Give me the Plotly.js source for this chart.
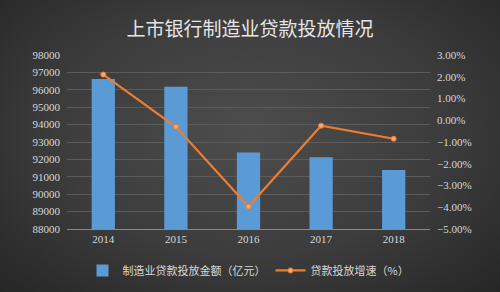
<!DOCTYPE html>
<html>
<head>
<meta charset="utf-8">
<script src="https://cdn.plot.ly/plotly-3.0.1.min.js"></script>
<style>
html,body{margin:0;padding:0;}
body{width:500px;height:292px;background:radial-gradient(ellipse at 50% 45%, #4d4d4d 0%, #3c3c3c 55%, #262626 100%);}
#chart{width:500px;height:292px;}
</style>
</head>
<body>
<div id="chart"></div>
<script>
const years = ['2014','2015','2016','2017','2018'];
const loanAmount = [96620, 96180, 92390, 92120, 91390];
const loanGrowth = [2.1, -0.3, -3.97, -0.25, -0.85];

const cjk = '"Noto Sans CJK SC", "Noto Sans", sans-serif';
const serif = '"Liberation Serif", "DejaVu Serif", serif';
const txt = '#d8d8d8';

const traces = [
  {
    type: 'bar', x: years, y: loanAmount, name: '制造业贷款投放金额（亿元）',
    marker: {color: '#5b9bd5'}, yaxis: 'y'
  },
  {
    type: 'scatter', mode: 'lines+markers', x: years, y: loanGrowth, name: '贷款投放增速（%）',
    line: {color: '#ed7d31', width: 2.2}, marker: {color: '#f2a878', size: 5, line:{color:'#ed7d31', width:1}},
    yaxis: 'y2'
  }
];

const layout = {
  width: 500, height: 292,
  paper_bgcolor: 'rgba(0,0,0,0)', plot_bgcolor: 'rgba(0,0,0,0)',
  margin: {l: 67, r: 70, t: 55, b: 63, autoexpand: false},
  bargap: 0.68,
  showlegend: true,
  title: {text: '上市银行制造业贷款投放情况', x: 0.5, xanchor: 'center', y: 0.9, yanchor: 'middle',
    font: {family: cjk, size: 19, color: '#e6e6e6'}},
  xaxis: {
    tickfont: {family: serif, size: 11, color: txt},
    showline: true, linecolor: '#8a8a8a', linewidth: 1, ticks: '', showgrid: false
  },
  yaxis: {
    range: [88000, 98000], dtick: 1000, tickformat: 'd',
    tickfont: {family: serif, size: 11, color: txt},
    gridcolor: '#5c5c5c', gridwidth: 1, zeroline: false, ticks: '', ticklabelstandoff: 6
  },
  yaxis2: {
    overlaying: 'y', side: 'right', range: [-5, 3], dtick: 1,
    tickformat: '.2f', ticksuffix: '%',
    tickfont: {family: serif, size: 11, color: txt},
    showgrid: false, zeroline: false, ticks: '', ticklabelstandoff: 6
  },
  legend: {
    orientation: 'h', x: 0.5, xanchor: 'center', y: -0.155, yanchor: 'top',
    font: {family: cjk, size: 11, color: txt}, bgcolor: 'rgba(0,0,0,0)'
  }
};

Plotly.newPlot('chart', traces, layout, {displayModeBar: false, staticPlot: true});
</script>
</body>
</html>
